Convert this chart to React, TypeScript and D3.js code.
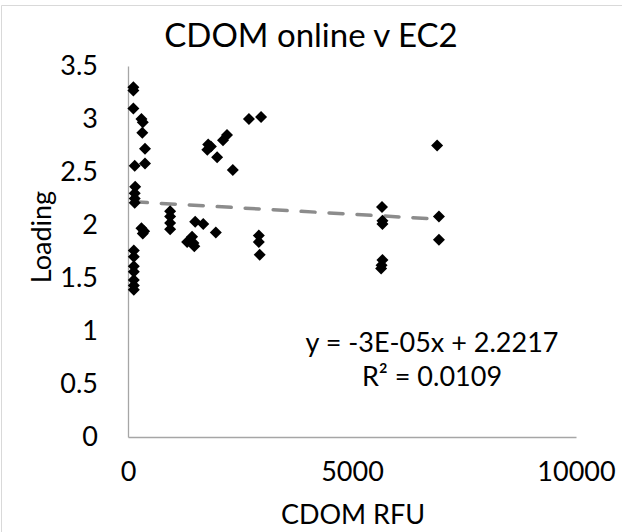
import React, { useEffect, useRef } from 'react';
import * as d3 from 'd3';

// CDOM RFU readings (x) and loading (y)
const cdomRfu: number[] = [
  120, 120, 120, 300, 330, 320, 380, 150, 380, 160, 150, 150, 150, 300, 360, 330,
  130, 130, 130, 130, 130, 130, 130,
  940, 940, 940, 940,
  1320, 1430, 1460, 1480, 1500, 1680, 1960, 1790, 1770, 1850, 1990, 2120, 2210, 2340,
  2700, 2970, 2920, 2920, 2940,
  5670, 5680, 5680, 5680, 5660, 5650, 6900, 6940, 6940,
];
const loading: number[] = [
  3.30, 3.27, 3.10, 3.00, 2.97, 2.87, 2.72, 2.56, 2.58, 2.36, 2.30, 2.25, 2.21, 1.97, 1.94, 1.92,
  1.76, 1.70, 1.61, 1.56, 1.48, 1.43, 1.39,
  2.13, 2.08, 2.02, 1.96,
  1.84, 1.89, 1.83, 1.80, 2.03, 2.01, 1.93, 2.76, 2.71, 2.74, 2.64, 2.80, 2.85, 2.52,
  3.00, 3.02, 1.90, 1.84, 1.72,
  2.17, 2.04, 2.01, 1.67, 1.62, 1.59, 2.75, 2.08, 1.86,
];

const xTicks: number[] = [0, 5000, 10000];
const yTicks: number[] = [0, 0.5, 1, 1.5, 2, 2.5, 3, 3.5];

// Linear trendline (Excel shows slope rounded to -3E-05)
const trendSlope = -2.4e-5;
const trendIntercept = 2.2217;
const equationLines: string[] = ['y = -3E-05x + 2.2217', 'R² = 0.0109'];

const WIDTH = 622;
const HEIGHT = 532;
const FONT = 'Lato, "Open Sans", sans-serif';
const LABEL_SIZE = '27px';

const App: React.FC = () => {
  const svgRef = useRef<SVGSVGElement>(null);

  useEffect(() => {
    if (!svgRef.current) return;
    const svg = d3.select(svgRef.current);
    svg.selectAll('*').remove();

    const xScale = d3.scaleLinear().domain([0, 10000]).range([128, 576]);
    const yScale = d3.scaleLinear().domain([0, 3.5]).range([437, 66]);

    // chart area border (only top/left visible)
    svg.append('line').attr('x1', 1.5).attr('x2', WIDTH).attr('y1', 5.5).attr('y2', 5.5)
      .attr('stroke', '#d9d9d9');
    svg.append('line').attr('x1', 1.5).attr('x2', 1.5).attr('y1', 5.5).attr('y2', HEIGHT)
      .attr('stroke', '#d9d9d9');

    // Axes
    svg.append('g')
      .attr('transform', `translate(0,${yScale(0)})`)
      .call(d3.axisBottom(xScale).tickValues(xTicks).tickSize(0).tickPadding(25).tickFormat(d3.format('d')))
      .call(g => g.select('.domain').attr('stroke', '#a6a6a6').attr('stroke-width', 1.3))
      .call(g => g.selectAll('text').attr('fill', '#000').style('font-size', LABEL_SIZE).style('font-family', FONT));

    svg.append('g')
      .attr('transform', `translate(${xScale(0)},0)`)
      .call(d3.axisLeft(yScale).tickValues(yTicks).tickSize(0).tickPadding(30).tickFormat(d => String(d)))
      .call(g => g.select('.domain').attr('stroke', '#a6a6a6').attr('stroke-width', 1.3))
      .call(g => g.selectAll('text').attr('fill', '#000').style('font-size', LABEL_SIZE).style('font-family', FONT));

    // Trendline
    const xExtent = d3.extent(cdomRfu) as [number, number];
    svg.append('line')
      .attr('x1', xScale(xExtent[0]))
      .attr('y1', yScale(trendSlope * xExtent[0] + trendIntercept))
      .attr('x2', xScale(xExtent[1]))
      .attr('y2', yScale(trendSlope * xExtent[1] + trendIntercept))
      .attr('stroke', '#8c8c8c')
      .attr('stroke-width', 3.5)
      .attr('stroke-linecap', 'round')
      .attr('stroke-dasharray', '14 14');

    // Points (diamonds)
    const diamond = d3.symbol().type(d3.symbolSquare).size(72);
    svg.append('g')
      .selectAll('path')
      .data(cdomRfu.map((x, i) => ({ x, y: loading[i] })))
      .enter()
      .append('path')
      .attr('d', diamond)
      .attr('transform', d => `translate(${xScale(d.x)},${yScale(d.y)}) rotate(45)`)
      .attr('fill', '#000');

    // Title and axis labels
    svg.append('text')
      .attr('x', 311).attr('y', 47)
      .attr('text-anchor', 'middle')
      .style('font-family', FONT).style('font-size', '33px')
      .text('CDOM online v EC2');

    svg.append('text')
      .attr('x', 353).attr('y', 524)
      .attr('text-anchor', 'middle')
      .style('font-family', FONT).style('font-size', LABEL_SIZE)
      .text('CDOM RFU');

    svg.append('text')
      .attr('transform', 'rotate(-90)')
      .attr('x', -237).attr('y', 51)
      .attr('text-anchor', 'middle')
      .style('font-family', FONT).style('font-size', LABEL_SIZE)
      .text('Loading');

    // Trendline equation
    svg.append('g')
      .selectAll('text')
      .data(equationLines)
      .enter()
      .append('text')
      .attr('x', 432)
      .attr('y', (_, i) => 352 + i * 34)
      .attr('text-anchor', 'middle')
      .style('font-family', FONT).style('font-size', LABEL_SIZE)
      .text(d => d);
  }, []);

  return (
    <svg
      ref={svgRef}
      width={WIDTH}
      height={HEIGHT}
      style={{ position: 'absolute', left: 0, top: 0, background: '#fff' }}
    />
  );
};

export default App;
